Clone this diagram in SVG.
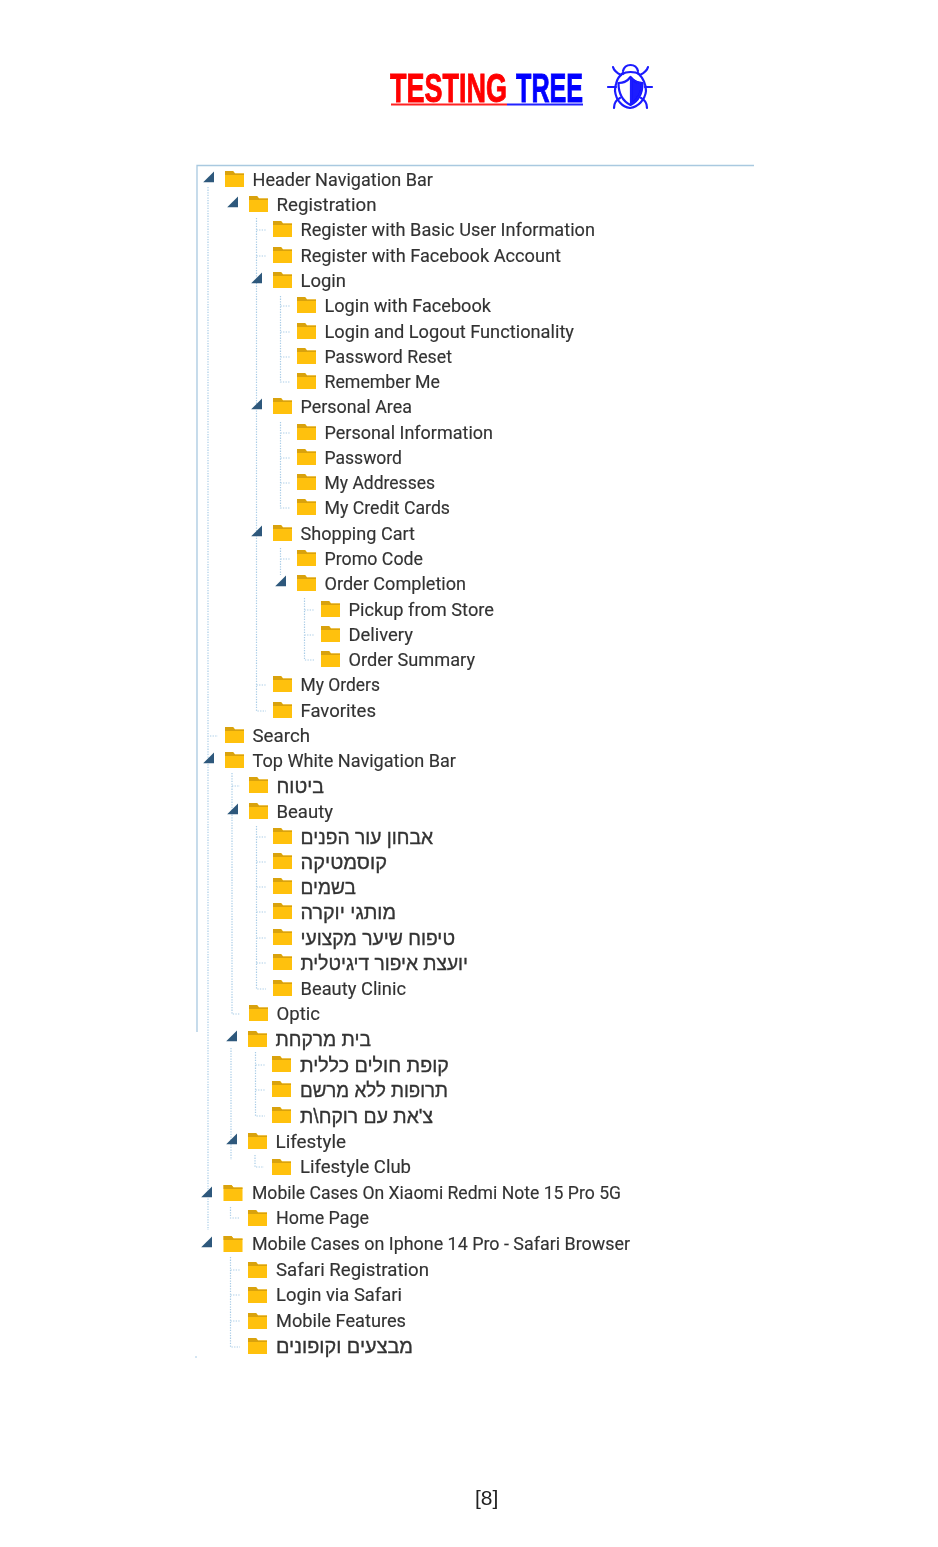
<svg xmlns="http://www.w3.org/2000/svg" width="938" height="1547" viewBox="0 0 938 1547">
<style>
text{font-family:Roboto,"Liberation Sans","DejaVu Sans",sans-serif;font-size:18px;fill:#333;stroke:#333;stroke-width:.15}
.he{font-family:"Liberation Sans","DejaVu Sans",sans-serif;font-size:19.5px;direction:rtl;text-anchor:end;stroke-width:.35}
.tt{font-family:"Liberation Sans",sans-serif;font-weight:700;font-size:40px;stroke-width:.9}
.red{fill:#f00;stroke:#f00}
.blue{fill:#00f;stroke:#00f}
.pg{font-family:"Liberation Sans",sans-serif;font-size:21px;stroke:none;fill:#222}
.dot{stroke:#a9cce6;stroke-width:1.2;stroke-dasharray:1.300 1.300;fill:none}
.box{stroke:#a9c9e0;stroke-width:1.300;fill:none}
.bug{stroke:#1a1aff;stroke-width:2.200;fill:none;stroke-linecap:round;stroke-linejoin:round}
svg>g{filter:url(#soft)}
</style>
<defs>
<filter id="soft" x="-5%" y="-5%" width="110%" height="110%"><feGaussianBlur stdDeviation=".35"/></filter>
<g id="f"><path d="M0 0h8l2 2.500h9v13.500H0z" fill="#ffc107"/><path d="M0 0h8l2 2.500h9v1.500H0z" fill="#d9a20c"/></g>
<path id="a" d="M-.8 10.300L10 -.5V10.300z" fill="#2f587c"/>
</defs>
<g id="title">
<text class="tt red" transform="translate(390 102) scale(.675 1)" x="0" y="0">TESTING</text>
<text class="tt blue" transform="translate(516 102) scale(.63 1)" x="0" y="0">TREE</text>
<path d="M391 104.500H507" stroke="#ff2020" stroke-width="1.800"/>
<path d="M507 104.500H583" stroke="#2020ff" stroke-width="1.800"/>
</g>
<g id="bug" class="bug">
<path d="M623 73c-4 3-6 6-7 11-1 3-1 5-1 7 1 9 7 16 15 17 8-1 15-8 16-17 0-6-3-13-8-18"/>
<path d="M623 71c1-4 4-6 7.500-6s6.500 2 7.500 6"/>
<path d="M623 74c2-2 5-2 7.500-2s6 0 8 2"/>
<path d="M618.500 83c5 0 9-2 12-6 3 4 7 6 12 6 0 10-4 18-12 22-8-4-12-12-12-22z"/>
<path d="M631 78c3 3 7 5 11 5 0 9-4 17-11 21z" fill="#1a1aff"/>
<path d="M613 67c1 4 4 6 8 8M648 67c-1 4-4 6-8 8"/>
<path d="M608 87h8M645 87h7"/>
<path d="M614 108c0-5 2-8 6-10M647 108c0-5-2-8-6-10"/>
</g>
<g id="connectors">
<path class="box" d="M197 1032V165.500H754"/>
<path class="dot" d="M208 187V1230M232 773V1014H240M231 1048V1160M230.500 1257V1347H240"/>
<path class="dot" d="M256.500 218V711H266M256.500 230H266M256.500 256H266M256.500 685H266"/>
<path class="dot" d="M280.500 296V382H290M280.500 306H290M280.500 332H290M280.500 357H290"/>
<path class="dot" d="M280.500 422V508H290M280.500 433H290M280.500 458H290M280.500 483H290"/>
<path class="dot" d="M280.500 548V575M280.500 559H290"/>
<path class="dot" d="M304.500 598V660H314M304.500 610H314M304.500 635H314"/>
<path class="dot" d="M256.500 826V989H266M256.500 837H266M256.500 862H266M256.500 887H266M256.500 912H266M256.500 938H266M256.500 963H266"/>
<path class="dot" d="M255.500 1052V1116H265M255.500 1065H265M255.500 1090H265"/>
<path class="dot" d="M255 1155V1167H264"/>
<path class="dot" d="M230.500 1207V1218H240"/>
<path class="dot" d="M230.500 1270H240M230.500 1295H240M230.500 1321H240"/>
<path class="dot" d="M210 736H218M232 786H240"/>
<path d="M195 1357h2" stroke="#a9cce6"/>
</g>
<g id="n0"><use href="#a" x="204" y="172"/><use href="#f" x="225" y="171"/><text x="252.500" y="185.800" textLength="180.500" lengthAdjust="spacingAndGlyphs">Header Navigation Bar</text></g>
<g id="n1"><use href="#a" x="228" y="197"/><use href="#f" x="249" y="196"/><text x="276.500" y="210.800" textLength="100" lengthAdjust="spacingAndGlyphs">Registration</text></g>
<g id="n2"><use href="#f" x="273" y="221"/><text x="300.500" y="236.300" textLength="294.500" lengthAdjust="spacingAndGlyphs">Register with Basic User Information</text></g>
<g id="n3"><use href="#f" x="273" y="247"/><text x="300.500" y="261.800" textLength="260.500" lengthAdjust="spacingAndGlyphs">Register with Facebook Account</text></g>
<g id="n4"><use href="#a" x="252" y="273"/><use href="#f" x="273" y="272"/><text x="300.500" y="286.800" textLength="45.500" lengthAdjust="spacingAndGlyphs">Login</text></g>
<g id="n5"><use href="#f" x="297" y="297"/><text x="324.500" y="311.800" textLength="166.500" lengthAdjust="spacingAndGlyphs">Login with Facebook</text></g>
<g id="n6"><use href="#f" x="297" y="323"/><text x="324.500" y="337.800" textLength="249.500" lengthAdjust="spacingAndGlyphs">Login and Logout Functionality</text></g>
<g id="n7"><use href="#f" x="297" y="348"/><text x="324.500" y="362.800" textLength="127.500" lengthAdjust="spacingAndGlyphs">Password Reset</text></g>
<g id="n8"><use href="#f" x="297" y="373"/><text x="324.500" y="387.800" textLength="115.500" lengthAdjust="spacingAndGlyphs">Remember Me</text></g>
<g id="n9"><use href="#a" x="252" y="399"/><use href="#f" x="273" y="398"/><text x="300.500" y="412.800" textLength="111.500" lengthAdjust="spacingAndGlyphs">Personal Area</text></g>
<g id="n10"><use href="#f" x="297" y="424"/><text x="324.500" y="438.800" textLength="168.500" lengthAdjust="spacingAndGlyphs">Personal Information</text></g>
<g id="n11"><use href="#f" x="297" y="449"/><text x="324.500" y="463.800" textLength="77.500" lengthAdjust="spacingAndGlyphs">Password</text></g>
<g id="n12"><use href="#f" x="297" y="474"/><text x="324.500" y="489" textLength="110.500" lengthAdjust="spacingAndGlyphs">My Addresses</text></g>
<g id="n13"><use href="#f" x="297" y="499"/><text x="324.500" y="514.300" textLength="125.500" lengthAdjust="spacingAndGlyphs">My Credit Cards</text></g>
<g id="n14"><use href="#a" x="252" y="526"/><use href="#f" x="273" y="525"/><text x="300.500" y="539.800" textLength="114.500" lengthAdjust="spacingAndGlyphs">Shopping Cart</text></g>
<g id="n15"><use href="#f" x="297" y="550"/><text x="324.500" y="564.800" textLength="98.500" lengthAdjust="spacingAndGlyphs">Promo Code</text></g>
<g id="n16"><use href="#a" x="276" y="576"/><use href="#f" x="297" y="575"/><text x="324.500" y="590.300" textLength="141.500" lengthAdjust="spacingAndGlyphs">Order Completion</text></g>
<g id="n17"><use href="#f" x="321" y="601"/><text x="348.500" y="615.800" textLength="145.500" lengthAdjust="spacingAndGlyphs">Pickup from Store</text></g>
<g id="n18"><use href="#f" x="321" y="626"/><text x="348.500" y="640.800" textLength="64.500" lengthAdjust="spacingAndGlyphs">Delivery</text></g>
<g id="n19"><use href="#f" x="321" y="651"/><text x="348.500" y="665.800" textLength="126.500" lengthAdjust="spacingAndGlyphs">Order Summary</text></g>
<g id="n20"><use href="#f" x="273" y="676"/><text x="300.500" y="691.300" textLength="79.500" lengthAdjust="spacingAndGlyphs">My Orders</text></g>
<g id="n21"><use href="#f" x="273" y="702"/><text x="300.500" y="716.800" textLength="75.500" lengthAdjust="spacingAndGlyphs">Favorites</text></g>
<g id="n22"><use href="#f" x="225" y="727"/><text x="252.500" y="741.800" textLength="57.500" lengthAdjust="spacingAndGlyphs">Search</text></g>
<g id="n23"><use href="#a" x="204" y="753"/><use href="#f" x="225" y="752"/><text x="252.500" y="766.800" textLength="203.500" lengthAdjust="spacingAndGlyphs">Top White Navigation Bar</text></g>
<g id="n24"><use href="#f" x="249" y="777"/><text class="he" x="276.500" y="793" textLength="47.500" lengthAdjust="spacingAndGlyphs">ביטוח</text></g>
<g id="n25"><use href="#a" x="228" y="804"/><use href="#f" x="249" y="803"/><text x="276.500" y="817.800" textLength="56.500" lengthAdjust="spacingAndGlyphs">Beauty</text></g>
<g id="n26"><use href="#f" x="273" y="828"/><text class="he" x="300.500" y="844" textLength="132.500" lengthAdjust="spacingAndGlyphs">אבחון עור הפנים</text></g>
<g id="n27"><use href="#f" x="273" y="853"/><text class="he" x="300.500" y="869" textLength="86.500" lengthAdjust="spacingAndGlyphs">קוסמטיקה</text></g>
<g id="n28"><use href="#f" x="273" y="878"/><text class="he" x="300.500" y="894" textLength="55.500" lengthAdjust="spacingAndGlyphs">בשמים</text></g>
<g id="n29"><use href="#f" x="273" y="903"/><text class="he" x="300.500" y="919" textLength="95.500" lengthAdjust="spacingAndGlyphs">מותגי יוקרה</text></g>
<g id="n30"><use href="#f" x="273" y="929"/><text class="he" x="300.500" y="945" textLength="154.500" lengthAdjust="spacingAndGlyphs">טיפוח שיער מקצועי</text></g>
<g id="n31"><use href="#f" x="273" y="954"/><text class="he" x="300.500" y="970" textLength="167.500" lengthAdjust="spacingAndGlyphs">יועצת איפור דיגיטלית</text></g>
<g id="n32"><use href="#f" x="273" y="980"/><text x="300.500" y="994.800" textLength="105.500" lengthAdjust="spacingAndGlyphs">Beauty Clinic</text></g>
<g id="n33"><use href="#f" x="249" y="1005"/><text x="276.500" y="1019.800" textLength="43.500" lengthAdjust="spacingAndGlyphs">Optic</text></g>
<g id="n34"><use href="#a" x="227" y="1031"/><use href="#f" x="248" y="1031"/><text class="he" x="275.500" y="1046" textLength="95.500" lengthAdjust="spacingAndGlyphs">בית מרקחת</text></g>
<g id="n35"><use href="#f" x="272" y="1056"/><text class="he" x="300" y="1072" textLength="149" lengthAdjust="spacingAndGlyphs">קופת חולים כללית</text></g>
<g id="n36"><use href="#f" x="272" y="1081"/><text class="he" x="300" y="1097" textLength="148" lengthAdjust="spacingAndGlyphs">תרופות ללא מרשם</text></g>
<g id="n37"><use href="#f" x="272" y="1107"/><text class="he" x="300" y="1123" textLength="133" lengthAdjust="spacingAndGlyphs">צ'את עם רוקח\ת</text></g>
<g id="n38"><use href="#a" x="227" y="1134"/><use href="#f" x="248" y="1133"/><text x="275.500" y="1147.800" textLength="70.500" lengthAdjust="spacingAndGlyphs">Lifestyle</text></g>
<g id="n39"><use href="#f" x="272" y="1159"/><text x="300" y="1173.300" textLength="111" lengthAdjust="spacingAndGlyphs">Lifestyle Club</text></g>
<g id="n40"><use href="#a" x="202" y="1187"/><use href="#f" x="223.500" y="1185"/><text x="252" y="1198.800" textLength="369" lengthAdjust="spacingAndGlyphs">Mobile Cases On Xiaomi Redmi Note 15 Pro 5G</text></g>
<g id="n41"><use href="#f" x="248" y="1210"/><text x="276" y="1224.300" textLength="93" lengthAdjust="spacingAndGlyphs">Home Page</text></g>
<g id="n42"><use href="#a" x="202" y="1237"/><use href="#f" x="223.500" y="1236"/><text x="252" y="1249.800" textLength="378" lengthAdjust="spacingAndGlyphs">Mobile Cases on Iphone 14 Pro - Safari Browser</text></g>
<g id="n43"><use href="#f" x="248" y="1262"/><text x="276" y="1275.800" textLength="153" lengthAdjust="spacingAndGlyphs">Safari Registration</text></g>
<g id="n44"><use href="#f" x="248" y="1287"/><text x="276" y="1301.300" textLength="126" lengthAdjust="spacingAndGlyphs">Login via Safari</text></g>
<g id="n45"><use href="#f" x="248" y="1313"/><text x="276" y="1326.800" textLength="130" lengthAdjust="spacingAndGlyphs">Mobile Features</text></g>
<g id="n46"><use href="#f" x="248" y="1338"/><text class="he" x="276" y="1353" textLength="137" lengthAdjust="spacingAndGlyphs">מבצעים וקופונים</text></g>
<g id="page"><text class="pg" x="475" y="1505">[8]</text></g>
</svg>
